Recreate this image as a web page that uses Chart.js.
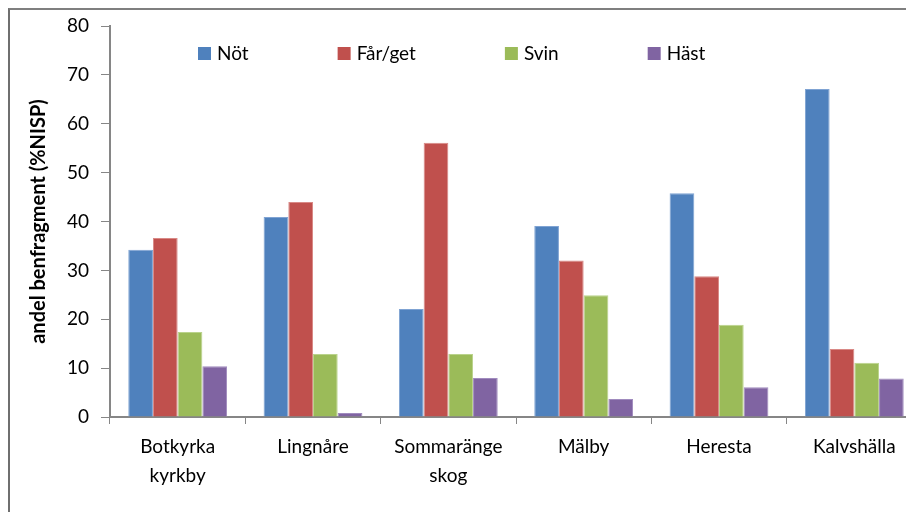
<!DOCTYPE html>
<html lang="sv">
<head>
<meta charset="utf-8">
<script src="https://cdn.jsdelivr.net/npm/chart.js@4.4.1/dist/chart.umd.min.js"></script>
<style>
  html, body { margin: 0; padding: 0; overflow: hidden; background: #fff; width: 906px; height: 512px; }
  .frame { position: absolute; left: 8px; top: 8px; width: 1000px; height: 1000px;
           border-left: 2px solid #6f6f6f; border-top: 2px solid #7f7f7f; box-sizing: border-box; }
  .wrap { position: absolute; left: 0; top: 0; width: 940px; height: 512px; }
</style>
</head>
<body>
<div class="frame"></div>
<div class="wrap"><canvas id="c"></canvas></div>
<script>
// Sites (x categories)
const sites = [["Botkyrka", "kyrkby"], "Lingnåre", ["Sommaränge", "skog"], "Mälby", "Heresta", "Kalvshälla"];
// Share of bone fragments per species, %NISP
const not    = [34.2, 40.9, 22.1, 39.1, 45.8, 67.1];
const farget = [36.6, 44.0, 56.1, 32.0, 28.8, 13.9];
const svin   = [17.4, 12.9, 12.9, 24.9, 18.9, 11.1];
const hast   = [10.4, 0.8, 8.0, 3.7, 6.1, 7.9];
const speciesNames = ["Nöt", "Får/get", "Svin", "Häst"];
const yTicks = [0, 10, 20, 30, 40, 50, 60, 70, 80];

const colors = ["#4F81BD", "#C0504D", "#9BBB59", "#8064A2"];
const edges  = ["#7FA3D3", "#D98986", "#BAD38C", "#A08BBE"];
const FONT = "Lato, 'Open Sans', sans-serif";

// Legend drawn across the top of the plot area
const innerLegend = {
  id: "innerLegend",
  afterDraw(chart) {
    const ctx = chart.ctx;
    const area = chart.chartArea;
    ctx.save();
    ctx.font = "19px " + FONT;
    ctx.textBaseline = "middle";
    ctx.textAlign = "left";
    let x = area.left + 88;
    const yMid = 53.5;
    chart.data.datasets.forEach((ds) => {
      ctx.fillStyle = ds.backgroundColor;
      ctx.fillRect(x, yMid - 6.5, 13, 13);
      ctx.fillStyle = "#000";
      ctx.fillText(ds.label, x + 19, yMid);
      x += 19 + ctx.measureText(ds.label).width + 89;
    });
    ctx.restore();
  }
};

const series = [not, farget, svin, hast];
new Chart(document.getElementById("c"), {
  type: "bar",
  data: {
    labels: sites,
    datasets: series.map((d, i) => ({
      label: speciesNames[i],
      data: d,
      backgroundColor: colors[i],
      borderColor: edges[i],
      borderWidth: { top: 1, left: 1, right: 1, bottom: 0 },
      categoryPercentage: 0.73,
      barPercentage: 1.0
    }))
  },
  options: {
    responsive: true,
    maintainAspectRatio: false,
    animation: false,
    devicePixelRatio: 1,
    layout: { padding: { top: 26, right: 18, bottom: 0, left: 0 } },
    plugins: { legend: { display: false }, tooltip: { enabled: false } },
    scales: {
      x: {
        offset: true,
        grid: { offset: true, drawOnChartArea: false, drawTicks: true, tickLength: 7, tickColor: "#868686" },
        border: { color: "#868686", width: 2 },
        ticks: { color: "#000", font: { family: FONT, size: 19, lineHeight: "28.5px" }, padding: 9, maxRotation: 0, autoSkip: false },
        afterFit(scale) { scale.height = 95; }
      },
      y: {
        min: 0, max: 80,
        afterBuildTicks(scale) { scale.ticks = yTicks.map(v => ({ value: v })); },
        grid: { drawOnChartArea: false, drawTicks: true, tickLength: 9, tickColor: "#868686" },
        border: { color: "#868686", width: 2 },
        ticks: { color: "#000", font: { family: FONT, size: 19 }, padding: 12 },
        title: { display: true, text: "andel benfragment (%NISP)", color: "#000",
                 font: { family: FONT, size: 20, weight: "bold" }, padding: { top: 27, bottom: 0 } },
        afterFit(scale) { scale.width = 110; }
      }
    }
  },
  plugins: [innerLegend]
});
</script>
</body>
</html>
